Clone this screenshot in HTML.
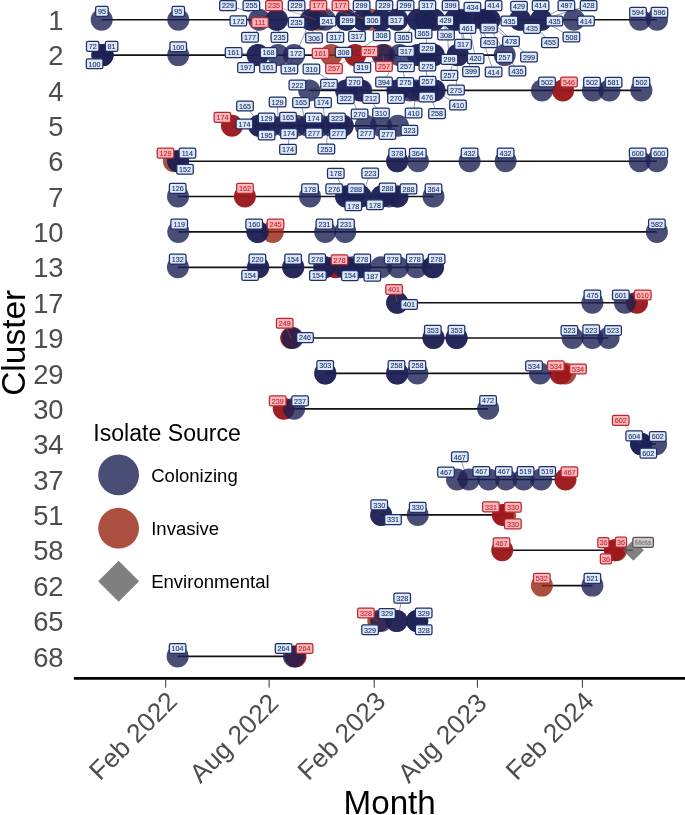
<!DOCTYPE html>
<html lang="en"><head><meta charset="utf-8"><title>Cluster timeline</title>
<style>html,body{margin:0;padding:0;background:#fff}svg{display:block}</style></head>
<body>
<svg width="685" height="815" viewBox="0 0 685 815">
<rect width="685" height="815" fill="#fff"/>
<g stroke="#111" stroke-width="1.65" stroke-linecap="butt">
<line x1="101.7" y1="19.7" x2="657" y2="19.7"/>
<line x1="102.5" y1="55.1" x2="505" y2="55.1"/>
<line x1="309.2" y1="90.4" x2="641.4" y2="90.4"/>
<line x1="232" y1="125.8" x2="397.9" y2="125.8"/>
<line x1="178" y1="161.2" x2="656.9" y2="161.2"/>
<line x1="177.7" y1="196.5" x2="433.5" y2="196.5"/>
<line x1="178.3" y1="231.9" x2="656.9" y2="231.9"/>
<line x1="177.7" y1="267.3" x2="433" y2="267.3"/>
<line x1="397.1" y1="302.7" x2="637" y2="302.7"/>
<line x1="291.5" y1="338.0" x2="608.4" y2="338.0"/>
<line x1="325.2" y1="373.4" x2="562" y2="373.4"/>
<line x1="283.1" y1="408.8" x2="488.1" y2="408.8"/>
<line x1="641" y1="444.1" x2="656" y2="444.1"/>
<line x1="457" y1="479.5" x2="565.5" y2="479.5"/>
<line x1="381.1" y1="514.9" x2="505" y2="514.9"/>
<line x1="502.2" y1="550.2" x2="633" y2="550.2"/>
<line x1="541.9" y1="585.6" x2="592.4" y2="585.6"/>
<line x1="177.6" y1="656.4" x2="294.5" y2="656.4"/>
</g>
<circle cx="318" cy="19.7" r="11.0" fill="#962410" fill-opacity="0.8"/>
<circle cx="371" cy="19.7" r="11.0" fill="#962410" fill-opacity="0.8"/>
<circle cx="331.2" cy="55.1" r="11.0" fill="#962410" fill-opacity="0.8"/>
<circle cx="384.5" cy="55.1" r="11.0" fill="#962410" fill-opacity="0.8"/>
<circle cx="355.2" cy="55.1" r="11.0" fill="#9b191b" fill-opacity="0.97"/>
<circle cx="563" cy="90.4" r="11.0" fill="#9b191b" fill-opacity="0.97"/>
<circle cx="232" cy="125.8" r="11.0" fill="#9b191b" fill-opacity="0.97"/>
<circle cx="173.9" cy="161.2" r="11.0" fill="#962410" fill-opacity="0.8"/>
<circle cx="244.9" cy="196.5" r="11.0" fill="#9b191b" fill-opacity="0.97"/>
<circle cx="272.8" cy="231.9" r="11.0" fill="#962410" fill-opacity="0.8"/>
<circle cx="335.5" cy="267.3" r="11.0" fill="#9b191b" fill-opacity="0.97"/>
<circle cx="637" cy="302.7" r="11.0" fill="#9b191b" fill-opacity="0.97"/>
<circle cx="291.2" cy="338.0" r="11.0" fill="#9b191b" fill-opacity="0.97"/>
<circle cx="565.2" cy="373.4" r="11.0" fill="#962410" fill-opacity="0.8"/>
<circle cx="560.5" cy="373.4" r="11.0" fill="#9b191b" fill-opacity="0.97"/>
<circle cx="283.8" cy="408.8" r="11.0" fill="#9b191b" fill-opacity="0.97"/>
<circle cx="565.5" cy="479.5" r="11.0" fill="#9b191b" fill-opacity="0.97"/>
<circle cx="505.2" cy="514.9" r="11.0" fill="#962410" fill-opacity="0.8"/>
<circle cx="502.8" cy="514.9" r="11.0" fill="#9b191b" fill-opacity="0.97"/>
<circle cx="616.2" cy="550.2" r="11.0" fill="#962410" fill-opacity="0.8"/>
<circle cx="502.2" cy="550.2" r="11.0" fill="#9b191b" fill-opacity="0.97"/>
<circle cx="614.8" cy="550.2" r="11.0" fill="#9b191b" fill-opacity="0.97"/>
<circle cx="541.9" cy="585.6" r="11.0" fill="#962410" fill-opacity="0.8"/>
<circle cx="378.3" cy="621.0" r="11.0" fill="#962410" fill-opacity="0.8"/>
<circle cx="295.5" cy="656.4" r="11.0" fill="#9b191b" fill-opacity="0.97"/>
<circle cx="101.7" cy="19.7" r="11.0" fill="#1d2053" fill-opacity="0.8"/>
<circle cx="178.3" cy="19.7" r="11.0" fill="#1d2053" fill-opacity="0.8"/>
<circle cx="259.2" cy="19.7" r="11.0" fill="#1d2053" fill-opacity="0.8"/>
<circle cx="276.5" cy="19.7" r="11.0" fill="#1d2053" fill-opacity="0.8"/>
<circle cx="277.1" cy="19.7" r="11.0" fill="#1d2053" fill-opacity="0.8"/>
<circle cx="310.7" cy="19.7" r="11.0" fill="#1d2053" fill-opacity="0.8"/>
<circle cx="311.5" cy="19.7" r="11.0" fill="#1d2053" fill-opacity="0.8"/>
<circle cx="325" cy="19.7" r="11.0" fill="#1d2053" fill-opacity="0.8"/>
<circle cx="346" cy="19.7" r="11.0" fill="#1d2053" fill-opacity="0.8"/>
<circle cx="346.3" cy="19.7" r="11.0" fill="#1d2053" fill-opacity="0.8"/>
<circle cx="363" cy="19.7" r="11.0" fill="#1d2053" fill-opacity="0.8"/>
<circle cx="363.3" cy="19.7" r="11.0" fill="#1d2053" fill-opacity="0.8"/>
<circle cx="381" cy="19.7" r="11.0" fill="#1d2053" fill-opacity="0.8"/>
<circle cx="381.3" cy="19.7" r="11.0" fill="#1d2053" fill-opacity="0.8"/>
<circle cx="397" cy="19.7" r="11.0" fill="#1d2053" fill-opacity="0.8"/>
<circle cx="397.3" cy="19.7" r="11.0" fill="#1d2053" fill-opacity="0.8"/>
<circle cx="418" cy="19.7" r="11.0" fill="#1d2053" fill-opacity="0.8"/>
<circle cx="418.3" cy="19.7" r="11.0" fill="#1d2053" fill-opacity="0.8"/>
<circle cx="426" cy="19.7" r="11.0" fill="#1d2053" fill-opacity="0.8"/>
<circle cx="434" cy="19.7" r="11.0" fill="#1d2053" fill-opacity="0.8"/>
<circle cx="434.3" cy="19.7" r="11.0" fill="#1d2053" fill-opacity="0.8"/>
<circle cx="455" cy="19.7" r="11.0" fill="#1d2053" fill-opacity="0.8"/>
<circle cx="455.3" cy="19.7" r="11.0" fill="#1d2053" fill-opacity="0.8"/>
<circle cx="461" cy="19.7" r="11.0" fill="#1d2053" fill-opacity="0.8"/>
<circle cx="467" cy="19.7" r="11.0" fill="#1d2053" fill-opacity="0.8"/>
<circle cx="471" cy="19.7" r="11.0" fill="#1d2053" fill-opacity="0.8"/>
<circle cx="485" cy="19.7" r="11.0" fill="#1d2053" fill-opacity="0.8"/>
<circle cx="485.3" cy="19.7" r="11.0" fill="#1d2053" fill-opacity="0.8"/>
<circle cx="489.4" cy="19.7" r="11.0" fill="#1d2053" fill-opacity="0.8"/>
<circle cx="489.6" cy="19.7" r="11.0" fill="#1d2053" fill-opacity="0.8"/>
<circle cx="520" cy="19.7" r="11.0" fill="#1d2053" fill-opacity="0.8"/>
<circle cx="520.3" cy="19.7" r="11.0" fill="#1d2053" fill-opacity="0.8"/>
<circle cx="541" cy="19.7" r="11.0" fill="#1d2053" fill-opacity="0.8"/>
<circle cx="541.3" cy="19.7" r="11.0" fill="#1d2053" fill-opacity="0.8"/>
<circle cx="574" cy="19.7" r="11.0" fill="#1d2053" fill-opacity="0.8"/>
<circle cx="640" cy="19.7" r="11.0" fill="#1d2053" fill-opacity="0.8"/>
<circle cx="657" cy="19.7" r="11.0" fill="#1d2053" fill-opacity="0.8"/>
<circle cx="102.5" cy="55.1" r="11.0" fill="#1d2053" fill-opacity="0.8"/>
<circle cx="102.5" cy="55.1" r="11.0" fill="#1d2053" fill-opacity="0.8"/>
<circle cx="102.5" cy="55.1" r="11.0" fill="#1d2053" fill-opacity="0.8"/>
<circle cx="178.2" cy="55.1" r="11.0" fill="#1d2053" fill-opacity="0.8"/>
<circle cx="257.5" cy="55.1" r="11.0" fill="#1d2053" fill-opacity="0.8"/>
<circle cx="258" cy="55.1" r="11.0" fill="#1d2053" fill-opacity="0.8"/>
<circle cx="278" cy="55.1" r="11.0" fill="#1d2053" fill-opacity="0.8"/>
<circle cx="294" cy="55.1" r="11.0" fill="#1d2053" fill-opacity="0.8"/>
<circle cx="382.6" cy="55.1" r="11.0" fill="#1d2053" fill-opacity="0.8"/>
<circle cx="399.6" cy="55.1" r="11.0" fill="#1d2053" fill-opacity="0.8"/>
<circle cx="418" cy="55.1" r="11.0" fill="#1d2053" fill-opacity="0.8"/>
<circle cx="418.3" cy="55.1" r="11.0" fill="#1d2053" fill-opacity="0.8"/>
<circle cx="426" cy="55.1" r="11.0" fill="#1d2053" fill-opacity="0.8"/>
<circle cx="433.5" cy="55.1" r="11.0" fill="#1d2053" fill-opacity="0.8"/>
<circle cx="433.8" cy="55.1" r="11.0" fill="#1d2053" fill-opacity="0.8"/>
<circle cx="457.6" cy="55.1" r="11.0" fill="#1d2053" fill-opacity="0.8"/>
<circle cx="458" cy="55.1" r="11.0" fill="#1d2053" fill-opacity="0.8"/>
<circle cx="504.7" cy="55.1" r="11.0" fill="#1d2053" fill-opacity="0.8"/>
<circle cx="309.2" cy="90.4" r="11.0" fill="#1d2053" fill-opacity="0.8"/>
<circle cx="346" cy="90.4" r="11.0" fill="#1d2053" fill-opacity="0.8"/>
<circle cx="347" cy="90.4" r="11.0" fill="#1d2053" fill-opacity="0.8"/>
<circle cx="361.3" cy="90.4" r="11.0" fill="#1d2053" fill-opacity="0.8"/>
<circle cx="360" cy="90.4" r="11.0" fill="#1d2053" fill-opacity="0.8"/>
<circle cx="397.4" cy="90.4" r="11.0" fill="#1d2053" fill-opacity="0.8"/>
<circle cx="398" cy="90.4" r="11.0" fill="#1d2053" fill-opacity="0.8"/>
<circle cx="409.5" cy="90.4" r="11.0" fill="#1d2053" fill-opacity="0.8"/>
<circle cx="416" cy="90.4" r="11.0" fill="#1d2053" fill-opacity="0.8"/>
<circle cx="422.6" cy="90.4" r="11.0" fill="#1d2053" fill-opacity="0.8"/>
<circle cx="428" cy="90.4" r="11.0" fill="#1d2053" fill-opacity="0.8"/>
<circle cx="434.7" cy="90.4" r="11.0" fill="#1d2053" fill-opacity="0.8"/>
<circle cx="434" cy="90.4" r="11.0" fill="#1d2053" fill-opacity="0.8"/>
<circle cx="542" cy="90.4" r="11.0" fill="#1d2053" fill-opacity="0.8"/>
<circle cx="593" cy="90.4" r="11.0" fill="#1d2053" fill-opacity="0.8"/>
<circle cx="609.4" cy="90.4" r="11.0" fill="#1d2053" fill-opacity="0.8"/>
<circle cx="641.4" cy="90.4" r="11.0" fill="#1d2053" fill-opacity="0.8"/>
<circle cx="259" cy="125.8" r="11.0" fill="#1d2053" fill-opacity="0.8"/>
<circle cx="259.3" cy="125.8" r="11.0" fill="#1d2053" fill-opacity="0.8"/>
<circle cx="265" cy="125.8" r="11.0" fill="#1d2053" fill-opacity="0.8"/>
<circle cx="271" cy="125.8" r="11.0" fill="#1d2053" fill-opacity="0.8"/>
<circle cx="284" cy="125.8" r="11.0" fill="#1d2053" fill-opacity="0.8"/>
<circle cx="290" cy="125.8" r="11.0" fill="#1d2053" fill-opacity="0.8"/>
<circle cx="296" cy="125.8" r="11.0" fill="#1d2053" fill-opacity="0.8"/>
<circle cx="308" cy="125.8" r="11.0" fill="#1d2053" fill-opacity="0.8"/>
<circle cx="314" cy="125.8" r="11.0" fill="#1d2053" fill-opacity="0.8"/>
<circle cx="320" cy="125.8" r="11.0" fill="#1d2053" fill-opacity="0.8"/>
<circle cx="331.5" cy="125.8" r="11.0" fill="#1d2053" fill-opacity="0.8"/>
<circle cx="337" cy="125.8" r="11.0" fill="#1d2053" fill-opacity="0.8"/>
<circle cx="342.5" cy="125.8" r="11.0" fill="#1d2053" fill-opacity="0.8"/>
<circle cx="342.8" cy="125.8" r="11.0" fill="#1d2053" fill-opacity="0.8"/>
<circle cx="365.7" cy="125.8" r="11.0" fill="#1d2053" fill-opacity="0.8"/>
<circle cx="381" cy="125.8" r="11.0" fill="#1d2053" fill-opacity="0.8"/>
<circle cx="397.9" cy="125.8" r="11.0" fill="#1d2053" fill-opacity="0.8"/>
<circle cx="178.1" cy="161.2" r="11.0" fill="#1d2053" fill-opacity="0.8"/>
<circle cx="178.2" cy="161.2" r="11.0" fill="#1d2053" fill-opacity="0.8"/>
<circle cx="397" cy="161.2" r="11.0" fill="#1d2053" fill-opacity="0.8"/>
<circle cx="397.3" cy="161.2" r="11.0" fill="#1d2053" fill-opacity="0.8"/>
<circle cx="418" cy="161.2" r="11.0" fill="#1d2053" fill-opacity="0.8"/>
<circle cx="469.6" cy="161.2" r="11.0" fill="#1d2053" fill-opacity="0.8"/>
<circle cx="505.6" cy="161.2" r="11.0" fill="#1d2053" fill-opacity="0.8"/>
<circle cx="639.7" cy="161.2" r="11.0" fill="#1d2053" fill-opacity="0.8"/>
<circle cx="656.9" cy="161.2" r="11.0" fill="#1d2053" fill-opacity="0.8"/>
<circle cx="178" cy="196.5" r="11.0" fill="#1d2053" fill-opacity="0.8"/>
<circle cx="310" cy="196.5" r="11.0" fill="#1d2053" fill-opacity="0.8"/>
<circle cx="346" cy="196.5" r="11.0" fill="#1d2053" fill-opacity="0.8"/>
<circle cx="346.3" cy="196.5" r="11.0" fill="#1d2053" fill-opacity="0.8"/>
<circle cx="353" cy="196.5" r="11.0" fill="#1d2053" fill-opacity="0.8"/>
<circle cx="360.5" cy="196.5" r="11.0" fill="#1d2053" fill-opacity="0.8"/>
<circle cx="360.8" cy="196.5" r="11.0" fill="#1d2053" fill-opacity="0.8"/>
<circle cx="381.5" cy="196.5" r="11.0" fill="#1d2053" fill-opacity="0.8"/>
<circle cx="381.8" cy="196.5" r="11.0" fill="#1d2053" fill-opacity="0.8"/>
<circle cx="389" cy="196.5" r="11.0" fill="#1d2053" fill-opacity="0.8"/>
<circle cx="397.2" cy="196.5" r="11.0" fill="#1d2053" fill-opacity="0.8"/>
<circle cx="397.5" cy="196.5" r="11.0" fill="#1d2053" fill-opacity="0.8"/>
<circle cx="433.5" cy="196.5" r="11.0" fill="#1d2053" fill-opacity="0.8"/>
<circle cx="178.3" cy="231.9" r="11.0" fill="#1d2053" fill-opacity="0.8"/>
<circle cx="257.4" cy="231.9" r="11.0" fill="#1d2053" fill-opacity="0.8"/>
<circle cx="257.6" cy="231.9" r="11.0" fill="#1d2053" fill-opacity="0.8"/>
<circle cx="325.2" cy="231.9" r="11.0" fill="#1d2053" fill-opacity="0.8"/>
<circle cx="345.2" cy="231.9" r="11.0" fill="#1d2053" fill-opacity="0.8"/>
<circle cx="656.9" cy="231.9" r="11.0" fill="#1d2053" fill-opacity="0.8"/>
<circle cx="177.9" cy="267.3" r="11.0" fill="#1d2053" fill-opacity="0.8"/>
<circle cx="258" cy="267.3" r="11.0" fill="#1d2053" fill-opacity="0.8"/>
<circle cx="258.3" cy="267.3" r="11.0" fill="#1d2053" fill-opacity="0.8"/>
<circle cx="293.1" cy="267.3" r="11.0" fill="#1d2053" fill-opacity="0.8"/>
<circle cx="293.3" cy="267.3" r="11.0" fill="#1d2053" fill-opacity="0.8"/>
<circle cx="324" cy="267.3" r="11.0" fill="#1d2053" fill-opacity="0.8"/>
<circle cx="325" cy="267.3" r="11.0" fill="#1d2053" fill-opacity="0.8"/>
<circle cx="344" cy="267.3" r="11.0" fill="#1d2053" fill-opacity="0.8"/>
<circle cx="346" cy="267.3" r="11.0" fill="#1d2053" fill-opacity="0.8"/>
<circle cx="353" cy="267.3" r="11.0" fill="#1d2053" fill-opacity="0.8"/>
<circle cx="360" cy="267.3" r="11.0" fill="#1d2053" fill-opacity="0.8"/>
<circle cx="360.3" cy="267.3" r="11.0" fill="#1d2053" fill-opacity="0.8"/>
<circle cx="381" cy="267.3" r="11.0" fill="#1d2053" fill-opacity="0.8"/>
<circle cx="398.1" cy="267.3" r="11.0" fill="#1d2053" fill-opacity="0.8"/>
<circle cx="416.5" cy="267.3" r="11.0" fill="#1d2053" fill-opacity="0.8"/>
<circle cx="432.9" cy="267.3" r="11.0" fill="#1d2053" fill-opacity="0.8"/>
<circle cx="433.1" cy="267.3" r="11.0" fill="#1d2053" fill-opacity="0.8"/>
<circle cx="397.1" cy="302.7" r="11.0" fill="#1d2053" fill-opacity="0.8"/>
<circle cx="397.3" cy="302.7" r="11.0" fill="#1d2053" fill-opacity="0.8"/>
<circle cx="592.4" cy="302.7" r="11.0" fill="#1d2053" fill-opacity="0.8"/>
<circle cx="625" cy="302.7" r="11.0" fill="#1d2053" fill-opacity="0.8"/>
<circle cx="292.6" cy="338.0" r="11.0" fill="#1d2053" fill-opacity="0.8"/>
<circle cx="433.4" cy="338.0" r="11.0" fill="#1d2053" fill-opacity="0.8"/>
<circle cx="433.6" cy="338.0" r="11.0" fill="#1d2053" fill-opacity="0.8"/>
<circle cx="456.5" cy="338.0" r="11.0" fill="#1d2053" fill-opacity="0.8"/>
<circle cx="456.6" cy="338.0" r="11.0" fill="#1d2053" fill-opacity="0.8"/>
<circle cx="572.6" cy="338.0" r="11.0" fill="#1d2053" fill-opacity="0.8"/>
<circle cx="592.3" cy="338.0" r="11.0" fill="#1d2053" fill-opacity="0.8"/>
<circle cx="608.6" cy="338.0" r="11.0" fill="#1d2053" fill-opacity="0.8"/>
<circle cx="325.2" cy="373.4" r="11.0" fill="#1d2053" fill-opacity="0.8"/>
<circle cx="325.4" cy="373.4" r="11.0" fill="#1d2053" fill-opacity="0.8"/>
<circle cx="397.1" cy="373.4" r="11.0" fill="#1d2053" fill-opacity="0.8"/>
<circle cx="397.3" cy="373.4" r="11.0" fill="#1d2053" fill-opacity="0.8"/>
<circle cx="417.4" cy="373.4" r="11.0" fill="#1d2053" fill-opacity="0.8"/>
<circle cx="540" cy="373.4" r="11.0" fill="#1d2053" fill-opacity="0.8"/>
<circle cx="294.1" cy="408.8" r="11.0" fill="#1d2053" fill-opacity="0.8"/>
<circle cx="488.1" cy="408.8" r="11.0" fill="#1d2053" fill-opacity="0.8"/>
<circle cx="641.1" cy="444.1" r="11.0" fill="#1d2053" fill-opacity="0.8"/>
<circle cx="641.2" cy="444.1" r="11.0" fill="#1d2053" fill-opacity="0.8"/>
<circle cx="641.3" cy="444.1" r="11.0" fill="#1d2053" fill-opacity="0.8"/>
<circle cx="656.1" cy="444.1" r="11.0" fill="#1d2053" fill-opacity="0.8"/>
<circle cx="457" cy="479.5" r="11.0" fill="#1d2053" fill-opacity="0.8"/>
<circle cx="468.9" cy="479.5" r="11.0" fill="#1d2053" fill-opacity="0.8"/>
<circle cx="488.6" cy="479.5" r="11.0" fill="#1d2053" fill-opacity="0.8"/>
<circle cx="506" cy="479.5" r="11.0" fill="#1d2053" fill-opacity="0.8"/>
<circle cx="523.6" cy="479.5" r="11.0" fill="#1d2053" fill-opacity="0.8"/>
<circle cx="541.2" cy="479.5" r="11.0" fill="#1d2053" fill-opacity="0.8"/>
<circle cx="381.1" cy="514.9" r="11.0" fill="#1d2053" fill-opacity="0.8"/>
<circle cx="381.3" cy="514.9" r="11.0" fill="#1d2053" fill-opacity="0.8"/>
<circle cx="417.7" cy="514.9" r="11.0" fill="#1d2053" fill-opacity="0.8"/>
<circle cx="592.4" cy="585.6" r="11.0" fill="#1d2053" fill-opacity="0.8"/>
<circle cx="381.2" cy="621.0" r="11.0" fill="#1d2053" fill-opacity="0.8"/>
<circle cx="396.6" cy="621.0" r="11.0" fill="#1d2053" fill-opacity="0.8"/>
<circle cx="396.8" cy="621.0" r="11.0" fill="#1d2053" fill-opacity="0.8"/>
<circle cx="417.1" cy="621.0" r="11.0" fill="#1d2053" fill-opacity="0.8"/>
<circle cx="417.3" cy="621.0" r="11.0" fill="#1d2053" fill-opacity="0.8"/>
<circle cx="417.2" cy="621.0" r="11.0" fill="#1d2053" fill-opacity="0.8"/>
<circle cx="177.6" cy="656.4" r="11.0" fill="#1d2053" fill-opacity="0.8"/>
<circle cx="294" cy="656.4" r="11.0" fill="#1d2053" fill-opacity="0.8"/>
<path d="M622.9 550.2L633.4 539.8L643.9 550.2L633.4 560.8Z" fill="#606060" fill-opacity=".8"/>
<g stroke-width=".6" fill="none" stroke-opacity=".8">
<line x1="228.0" y1="5.6" x2="277.0" y2="19.7" stroke="#1f2d68"/>
<line x1="251.4" y1="5.6" x2="277.0" y2="19.7" stroke="#1f2d68"/>
<line x1="274.0" y1="5.6" x2="316.0" y2="19.7" stroke="#c4563c"/>
<line x1="296.6" y1="5.6" x2="310.7" y2="19.7" stroke="#1f2d68"/>
<line x1="318.4" y1="5.6" x2="366.0" y2="19.7" stroke="#c4563c"/>
<line x1="340.4" y1="5.6" x2="366.0" y2="19.7" stroke="#c4563c"/>
<line x1="361.6" y1="5.6" x2="359" y2="19.7" stroke="#1f2d68"/>
<line x1="384.4" y1="5.6" x2="385" y2="19.7" stroke="#1f2d68"/>
<line x1="405.6" y1="5.6" x2="404" y2="19.7" stroke="#1f2d68"/>
<line x1="427.4" y1="5.6" x2="428" y2="19.7" stroke="#1f2d68"/>
<line x1="450.6" y1="5.6" x2="452" y2="19.7" stroke="#1f2d68"/>
<line x1="472.4" y1="7.4" x2="470" y2="19.7" stroke="#1f2d68"/>
<line x1="493.6" y1="5.6" x2="490" y2="19.7" stroke="#1f2d68"/>
<line x1="519.0" y1="6.4" x2="520" y2="19.7" stroke="#1f2d68"/>
<line x1="540.6" y1="5.6" x2="541" y2="19.7" stroke="#1f2d68"/>
<line x1="566.4" y1="5.6" x2="541.0" y2="19.7" stroke="#1f2d68"/>
<line x1="588.6" y1="5.6" x2="541.0" y2="19.7" stroke="#1f2d68"/>
<line x1="296.6" y1="22.4" x2="278.0" y2="19.7" stroke="#1f2d68"/>
<line x1="509.4" y1="21.0" x2="520.0" y2="19.7" stroke="#1f2d68"/>
<line x1="467.4" y1="28.4" x2="462" y2="19.7" stroke="#1f2d68"/>
<line x1="489.0" y1="28.0" x2="484" y2="19.7" stroke="#1f2d68"/>
<line x1="532.0" y1="28.4" x2="530" y2="19.7" stroke="#1f2d68"/>
<line x1="250.0" y1="37.2" x2="269.0" y2="21.0" stroke="#1f2d68"/>
<line x1="279.4" y1="37.4" x2="277.0" y2="19.7" stroke="#1f2d68"/>
<line x1="314.0" y1="37.8" x2="311.0" y2="19.7" stroke="#1f2d68"/>
<line x1="335.4" y1="37.4" x2="346.0" y2="19.7" stroke="#1f2d68"/>
<line x1="357.0" y1="36.4" x2="372.0" y2="19.7" stroke="#1f2d68"/>
<line x1="381.6" y1="35.6" x2="350.0" y2="55.0" stroke="#1f2d68"/>
<line x1="403.4" y1="37.4" x2="418.0" y2="19.7" stroke="#1f2d68"/>
<line x1="423.6" y1="33.4" x2="420" y2="19.7" stroke="#1f2d68"/>
<line x1="446.0" y1="34.8" x2="444" y2="19.7" stroke="#1f2d68"/>
<line x1="571.4" y1="37.0" x2="541.0" y2="19.7" stroke="#1f2d68"/>
<line x1="463.0" y1="44.4" x2="460" y2="19.7" stroke="#1f2d68"/>
<line x1="489.0" y1="42.6" x2="476.0" y2="19.7" stroke="#1f2d68"/>
<line x1="511.0" y1="41.4" x2="484.0" y2="19.7" stroke="#1f2d68"/>
<line x1="550.0" y1="42.6" x2="530.0" y2="19.7" stroke="#1f2d68"/>
<line x1="233.6" y1="52.6" x2="258.0" y2="55.0" stroke="#1f2d68"/>
<line x1="296.0" y1="53.4" x2="310.7" y2="19.7" stroke="#1f2d68"/>
<line x1="406.0" y1="51.4" x2="400" y2="55.1" stroke="#1f2d68"/>
<line x1="427.4" y1="48.4" x2="424" y2="19.7" stroke="#1f2d68"/>
<line x1="449.4" y1="59.4" x2="446.0" y2="19.7" stroke="#1f2d68"/>
<line x1="475.6" y1="58.6" x2="468.0" y2="19.7" stroke="#1f2d68"/>
<line x1="529.0" y1="57.0" x2="490.0" y2="19.7" stroke="#1f2d68"/>
<line x1="246.0" y1="67.6" x2="258.0" y2="55.0" stroke="#1f2d68"/>
<line x1="268.0" y1="67.6" x2="258.0" y2="55.0" stroke="#1f2d68"/>
<line x1="289.4" y1="69.0" x2="294.0" y2="55.0" stroke="#1f2d68"/>
<line x1="311.4" y1="69.0" x2="346.0" y2="90.0" stroke="#1f2d68"/>
<line x1="334.0" y1="68.6" x2="355.0" y2="55.0" stroke="#c4563c"/>
<line x1="362.4" y1="67.6" x2="383" y2="55.1" stroke="#1f2d68"/>
<line x1="384.0" y1="66.4" x2="383.0" y2="55.0" stroke="#c4563c"/>
<line x1="406.0" y1="66.6" x2="413.0" y2="55.0" stroke="#1f2d68"/>
<line x1="427.4" y1="66.0" x2="426" y2="55.1" stroke="#1f2d68"/>
<line x1="449.4" y1="75.4" x2="455" y2="55.1" stroke="#1f2d68"/>
<line x1="471.0" y1="71.6" x2="460.0" y2="19.7" stroke="#1f2d68"/>
<line x1="493.6" y1="72.0" x2="476.0" y2="19.7" stroke="#1f2d68"/>
<line x1="517.4" y1="71.0" x2="484.0" y2="19.7" stroke="#1f2d68"/>
<line x1="297.4" y1="85.0" x2="309.2" y2="90.4" stroke="#1f2d68"/>
<line x1="329.0" y1="84.4" x2="309.0" y2="90.0" stroke="#1f2d68"/>
<line x1="354.4" y1="82.0" x2="347" y2="90.4" stroke="#1f2d68"/>
<line x1="384.0" y1="82.0" x2="398.0" y2="55.0" stroke="#1f2d68"/>
<line x1="405.4" y1="82.6" x2="400" y2="55.1" stroke="#1f2d68"/>
<line x1="427.6" y1="81.4" x2="424" y2="55.1" stroke="#1f2d68"/>
<line x1="456.0" y1="90.0" x2="458" y2="55.1" stroke="#1f2d68"/>
<line x1="345.8" y1="98.6" x2="346" y2="90.4" stroke="#1f2d68"/>
<line x1="371.0" y1="98.4" x2="361" y2="90.4" stroke="#1f2d68"/>
<line x1="396.0" y1="98.4" x2="398" y2="90.4" stroke="#1f2d68"/>
<line x1="427.2" y1="97.0" x2="428" y2="90.4" stroke="#1f2d68"/>
<line x1="458.0" y1="105.0" x2="434.0" y2="90.0" stroke="#1f2d68"/>
<line x1="359.6" y1="114.0" x2="346.0" y2="90.0" stroke="#1f2d68"/>
<line x1="381.0" y1="113.0" x2="361.0" y2="90.0" stroke="#1f2d68"/>
<line x1="413.6" y1="113.0" x2="416.0" y2="90.0" stroke="#1f2d68"/>
<line x1="437.0" y1="113.6" x2="428.0" y2="90.0" stroke="#1f2d68"/>
<line x1="245.0" y1="106.0" x2="262.0" y2="125.0" stroke="#1f2d68"/>
<line x1="277.6" y1="102.0" x2="278.0" y2="125.0" stroke="#1f2d68"/>
<line x1="301.0" y1="102.6" x2="306.0" y2="125.0" stroke="#1f2d68"/>
<line x1="323.0" y1="102.6" x2="325.0" y2="125.0" stroke="#1f2d68"/>
<line x1="409.4" y1="130.4" x2="397.9" y2="125.8" stroke="#1f2d68"/>
<line x1="288.0" y1="149.4" x2="290.0" y2="125.0" stroke="#1f2d68"/>
<line x1="326.4" y1="149.0" x2="328.0" y2="125.0" stroke="#1f2d68"/>
<line x1="335.8" y1="173.3" x2="346.0" y2="196.5" stroke="#1f2d68"/>
<line x1="370.2" y1="173.1" x2="362.0" y2="196.5" stroke="#1f2d68"/>
<line x1="394.1" y1="289.5" x2="397.0" y2="302.0" stroke="#c4563c"/>
<line x1="409.1" y1="304.5" x2="397.1" y2="302.7" stroke="#1f2d68"/>
<line x1="284.7" y1="323.2" x2="291.0" y2="338.0" stroke="#c4563c"/>
<line x1="305.0" y1="337.6" x2="292.6" y2="338" stroke="#1f2d68"/>
<line x1="620.7" y1="420.4" x2="641.0" y2="444.0" stroke="#c4563c"/>
<line x1="634.2" y1="435.8" x2="641" y2="444" stroke="#1f2d68"/>
<line x1="648.3" y1="453.1" x2="641" y2="444" stroke="#1f2d68"/>
<line x1="459.8" y1="456.7" x2="468.0" y2="480.0" stroke="#1f2d68"/>
<line x1="379.2" y1="504.9" x2="381.1" y2="514.9" stroke="#1f2d68"/>
<line x1="393.0" y1="519.6" x2="381.1" y2="514.9" stroke="#1f2d68"/>
<line x1="402.2" y1="598.1" x2="397.0" y2="621.0" stroke="#1f2d68"/>
<line x1="365.9" y1="613.0" x2="378.3" y2="621.4" stroke="#c4563c"/>
<line x1="370.1" y1="629.7" x2="381" y2="621.4" stroke="#1f2d68"/>
</g>
<g font-family="'Liberation Sans',Arial,sans-serif" font-size="7.2" text-anchor="middle">
<rect x="95.65" y="6.45" width="12.50" height="9.9" rx="1.6" fill="#dbe9f8" stroke="#1f2d68" stroke-width="1.25"/>
<text x="101.90" y="14.20" fill="#1f2d68" stroke="#1f2d68" stroke-width=".1">95</text>
<rect x="172.05" y="6.45" width="12.50" height="9.9" rx="1.6" fill="#dbe9f8" stroke="#1f2d68" stroke-width="1.25"/>
<text x="178.30" y="14.20" fill="#1f2d68" stroke="#1f2d68" stroke-width=".1">95</text>
<rect x="86.45" y="41.35" width="12.50" height="9.9" rx="1.6" fill="#dbe9f8" stroke="#1f2d68" stroke-width="1.25"/>
<text x="92.70" y="49.10" fill="#1f2d68" stroke="#1f2d68" stroke-width=".1">72</text>
<rect x="105.35" y="41.35" width="12.50" height="9.9" rx="1.6" fill="#dbe9f8" stroke="#1f2d68" stroke-width="1.25"/>
<text x="111.60" y="49.10" fill="#1f2d68" stroke="#1f2d68" stroke-width=".1">81</text>
<rect x="86.30" y="58.75" width="16.60" height="9.9" rx="1.6" fill="#dbe9f8" stroke="#1f2d68" stroke-width="1.25"/>
<text x="94.60" y="66.50" fill="#1f2d68" stroke="#1f2d68" stroke-width=".1">100</text>
<rect x="169.90" y="41.75" width="16.60" height="9.9" rx="1.6" fill="#dbe9f8" stroke="#1f2d68" stroke-width="1.25"/>
<text x="178.20" y="49.50" fill="#1f2d68" stroke="#1f2d68" stroke-width=".1">100</text>
<rect x="219.70" y="0.65" width="16.60" height="9.9" rx="1.6" fill="#dbe9f8" stroke="#1f2d68" stroke-width="1.25"/>
<text x="228.00" y="8.40" fill="#1f2d68" stroke="#1f2d68" stroke-width=".1">229</text>
<rect x="243.10" y="0.65" width="16.60" height="9.9" rx="1.6" fill="#dbe9f8" stroke="#1f2d68" stroke-width="1.25"/>
<text x="251.40" y="8.40" fill="#1f2d68" stroke="#1f2d68" stroke-width=".1">255</text>
<rect x="265.70" y="0.65" width="16.60" height="9.9" rx="1.6" fill="#fbb8bb" stroke="#b92732" stroke-width="1.25"/>
<text x="274.00" y="8.40" fill="#b8242f" stroke="#b8242f" stroke-width=".1">235</text>
<rect x="288.30" y="0.65" width="16.60" height="9.9" rx="1.6" fill="#dbe9f8" stroke="#1f2d68" stroke-width="1.25"/>
<text x="296.60" y="8.40" fill="#1f2d68" stroke="#1f2d68" stroke-width=".1">229</text>
<rect x="310.10" y="0.65" width="16.60" height="9.9" rx="1.6" fill="#fbb8bb" stroke="#b92732" stroke-width="1.25"/>
<text x="318.40" y="8.40" fill="#b8242f" stroke="#b8242f" stroke-width=".1">177</text>
<rect x="332.10" y="0.65" width="16.60" height="9.9" rx="1.6" fill="#fbb8bb" stroke="#b92732" stroke-width="1.25"/>
<text x="340.40" y="8.40" fill="#b8242f" stroke="#b8242f" stroke-width=".1">177</text>
<rect x="353.30" y="0.65" width="16.60" height="9.9" rx="1.6" fill="#dbe9f8" stroke="#1f2d68" stroke-width="1.25"/>
<text x="361.60" y="8.40" fill="#1f2d68" stroke="#1f2d68" stroke-width=".1">299</text>
<rect x="376.10" y="0.65" width="16.60" height="9.9" rx="1.6" fill="#dbe9f8" stroke="#1f2d68" stroke-width="1.25"/>
<text x="384.40" y="8.40" fill="#1f2d68" stroke="#1f2d68" stroke-width=".1">229</text>
<rect x="397.30" y="0.65" width="16.60" height="9.9" rx="1.6" fill="#dbe9f8" stroke="#1f2d68" stroke-width="1.25"/>
<text x="405.60" y="8.40" fill="#1f2d68" stroke="#1f2d68" stroke-width=".1">299</text>
<rect x="419.10" y="0.65" width="16.60" height="9.9" rx="1.6" fill="#dbe9f8" stroke="#1f2d68" stroke-width="1.25"/>
<text x="427.40" y="8.40" fill="#1f2d68" stroke="#1f2d68" stroke-width=".1">317</text>
<rect x="442.30" y="0.65" width="16.60" height="9.9" rx="1.6" fill="#dbe9f8" stroke="#1f2d68" stroke-width="1.25"/>
<text x="450.60" y="8.40" fill="#1f2d68" stroke="#1f2d68" stroke-width=".1">399</text>
<rect x="464.10" y="2.45" width="16.60" height="9.9" rx="1.6" fill="#dbe9f8" stroke="#1f2d68" stroke-width="1.25"/>
<text x="472.40" y="10.20" fill="#1f2d68" stroke="#1f2d68" stroke-width=".1">434</text>
<rect x="485.30" y="0.65" width="16.60" height="9.9" rx="1.6" fill="#dbe9f8" stroke="#1f2d68" stroke-width="1.25"/>
<text x="493.60" y="8.40" fill="#1f2d68" stroke="#1f2d68" stroke-width=".1">414</text>
<rect x="510.70" y="1.45" width="16.60" height="9.9" rx="1.6" fill="#dbe9f8" stroke="#1f2d68" stroke-width="1.25"/>
<text x="519.00" y="9.20" fill="#1f2d68" stroke="#1f2d68" stroke-width=".1">429</text>
<rect x="532.30" y="0.65" width="16.60" height="9.9" rx="1.6" fill="#dbe9f8" stroke="#1f2d68" stroke-width="1.25"/>
<text x="540.60" y="8.40" fill="#1f2d68" stroke="#1f2d68" stroke-width=".1">414</text>
<rect x="558.10" y="0.65" width="16.60" height="9.9" rx="1.6" fill="#dbe9f8" stroke="#1f2d68" stroke-width="1.25"/>
<text x="566.40" y="8.40" fill="#1f2d68" stroke="#1f2d68" stroke-width=".1">497</text>
<rect x="580.30" y="0.65" width="16.60" height="9.9" rx="1.6" fill="#dbe9f8" stroke="#1f2d68" stroke-width="1.25"/>
<text x="588.60" y="8.40" fill="#1f2d68" stroke="#1f2d68" stroke-width=".1">428</text>
<rect x="629.70" y="7.45" width="16.60" height="9.9" rx="1.6" fill="#dbe9f8" stroke="#1f2d68" stroke-width="1.25"/>
<text x="638.00" y="15.20" fill="#1f2d68" stroke="#1f2d68" stroke-width=".1">594</text>
<rect x="651.10" y="7.45" width="16.60" height="9.9" rx="1.6" fill="#dbe9f8" stroke="#1f2d68" stroke-width="1.25"/>
<text x="659.40" y="15.20" fill="#1f2d68" stroke="#1f2d68" stroke-width=".1">596</text>
<rect x="230.10" y="15.85" width="16.60" height="9.9" rx="1.6" fill="#dbe9f8" stroke="#1f2d68" stroke-width="1.25"/>
<text x="238.40" y="23.60" fill="#1f2d68" stroke="#1f2d68" stroke-width=".1">172</text>
<rect x="251.70" y="17.55" width="16.60" height="9.9" rx="1.6" fill="#fbb8bb" stroke="#b92732" stroke-width="1.25"/>
<text x="260.00" y="25.30" fill="#b8242f" stroke="#b8242f" stroke-width=".1">111</text>
<rect x="288.30" y="17.45" width="16.60" height="9.9" rx="1.6" fill="#dbe9f8" stroke="#1f2d68" stroke-width="1.25"/>
<text x="296.60" y="25.20" fill="#1f2d68" stroke="#1f2d68" stroke-width=".1">235</text>
<rect x="319.30" y="16.25" width="16.60" height="9.9" rx="1.6" fill="#dbe9f8" stroke="#1f2d68" stroke-width="1.25"/>
<text x="327.60" y="24.00" fill="#1f2d68" stroke="#1f2d68" stroke-width=".1">241</text>
<rect x="339.30" y="15.65" width="16.60" height="9.9" rx="1.6" fill="#dbe9f8" stroke="#1f2d68" stroke-width="1.25"/>
<text x="347.60" y="23.40" fill="#1f2d68" stroke="#1f2d68" stroke-width=".1">299</text>
<rect x="364.30" y="15.65" width="16.60" height="9.9" rx="1.6" fill="#dbe9f8" stroke="#1f2d68" stroke-width="1.25"/>
<text x="372.60" y="23.40" fill="#1f2d68" stroke="#1f2d68" stroke-width=".1">306</text>
<rect x="387.70" y="15.65" width="16.60" height="9.9" rx="1.6" fill="#dbe9f8" stroke="#1f2d68" stroke-width="1.25"/>
<text x="396.00" y="23.40" fill="#1f2d68" stroke="#1f2d68" stroke-width=".1">317</text>
<rect x="437.10" y="15.65" width="16.60" height="9.9" rx="1.6" fill="#dbe9f8" stroke="#1f2d68" stroke-width="1.25"/>
<text x="445.40" y="23.40" fill="#1f2d68" stroke="#1f2d68" stroke-width=".1">429</text>
<rect x="501.10" y="16.05" width="16.60" height="9.9" rx="1.6" fill="#dbe9f8" stroke="#1f2d68" stroke-width="1.25"/>
<text x="509.40" y="23.80" fill="#1f2d68" stroke="#1f2d68" stroke-width=".1">435</text>
<rect x="546.10" y="16.05" width="16.60" height="9.9" rx="1.6" fill="#dbe9f8" stroke="#1f2d68" stroke-width="1.25"/>
<text x="554.40" y="23.80" fill="#1f2d68" stroke="#1f2d68" stroke-width=".1">435</text>
<rect x="577.70" y="16.05" width="16.60" height="9.9" rx="1.6" fill="#dbe9f8" stroke="#1f2d68" stroke-width="1.25"/>
<text x="586.00" y="23.80" fill="#1f2d68" stroke="#1f2d68" stroke-width=".1">414</text>
<rect x="459.10" y="23.45" width="16.60" height="9.9" rx="1.6" fill="#dbe9f8" stroke="#1f2d68" stroke-width="1.25"/>
<text x="467.40" y="31.20" fill="#1f2d68" stroke="#1f2d68" stroke-width=".1">461</text>
<rect x="480.70" y="23.05" width="16.60" height="9.9" rx="1.6" fill="#dbe9f8" stroke="#1f2d68" stroke-width="1.25"/>
<text x="489.00" y="30.80" fill="#1f2d68" stroke="#1f2d68" stroke-width=".1">399</text>
<rect x="523.70" y="23.45" width="16.60" height="9.9" rx="1.6" fill="#dbe9f8" stroke="#1f2d68" stroke-width="1.25"/>
<text x="532.00" y="31.20" fill="#1f2d68" stroke="#1f2d68" stroke-width=".1">435</text>
<rect x="241.70" y="32.25" width="16.60" height="9.9" rx="1.6" fill="#dbe9f8" stroke="#1f2d68" stroke-width="1.25"/>
<text x="250.00" y="40.00" fill="#1f2d68" stroke="#1f2d68" stroke-width=".1">177</text>
<rect x="271.10" y="32.45" width="16.60" height="9.9" rx="1.6" fill="#dbe9f8" stroke="#1f2d68" stroke-width="1.25"/>
<text x="279.40" y="40.20" fill="#1f2d68" stroke="#1f2d68" stroke-width=".1">235</text>
<rect x="305.70" y="32.85" width="16.60" height="9.9" rx="1.6" fill="#dbe9f8" stroke="#1f2d68" stroke-width="1.25"/>
<text x="314.00" y="40.60" fill="#1f2d68" stroke="#1f2d68" stroke-width=".1">306</text>
<rect x="327.10" y="32.45" width="16.60" height="9.9" rx="1.6" fill="#dbe9f8" stroke="#1f2d68" stroke-width="1.25"/>
<text x="335.40" y="40.20" fill="#1f2d68" stroke="#1f2d68" stroke-width=".1">317</text>
<rect x="348.70" y="31.45" width="16.60" height="9.9" rx="1.6" fill="#dbe9f8" stroke="#1f2d68" stroke-width="1.25"/>
<text x="357.00" y="39.20" fill="#1f2d68" stroke="#1f2d68" stroke-width=".1">317</text>
<rect x="373.30" y="30.65" width="16.60" height="9.9" rx="1.6" fill="#dbe9f8" stroke="#1f2d68" stroke-width="1.25"/>
<text x="381.60" y="38.40" fill="#1f2d68" stroke="#1f2d68" stroke-width=".1">308</text>
<rect x="395.10" y="32.45" width="16.60" height="9.9" rx="1.6" fill="#dbe9f8" stroke="#1f2d68" stroke-width="1.25"/>
<text x="403.40" y="40.20" fill="#1f2d68" stroke="#1f2d68" stroke-width=".1">365</text>
<rect x="415.30" y="28.45" width="16.60" height="9.9" rx="1.6" fill="#dbe9f8" stroke="#1f2d68" stroke-width="1.25"/>
<text x="423.60" y="36.20" fill="#1f2d68" stroke="#1f2d68" stroke-width=".1">365</text>
<rect x="437.70" y="29.85" width="16.60" height="9.9" rx="1.6" fill="#dbe9f8" stroke="#1f2d68" stroke-width="1.25"/>
<text x="446.00" y="37.60" fill="#1f2d68" stroke="#1f2d68" stroke-width=".1">308</text>
<rect x="563.10" y="32.05" width="16.60" height="9.9" rx="1.6" fill="#dbe9f8" stroke="#1f2d68" stroke-width="1.25"/>
<text x="571.40" y="39.80" fill="#1f2d68" stroke="#1f2d68" stroke-width=".1">508</text>
<rect x="454.70" y="39.45" width="16.60" height="9.9" rx="1.6" fill="#dbe9f8" stroke="#1f2d68" stroke-width="1.25"/>
<text x="463.00" y="47.20" fill="#1f2d68" stroke="#1f2d68" stroke-width=".1">317</text>
<rect x="480.70" y="37.65" width="16.60" height="9.9" rx="1.6" fill="#dbe9f8" stroke="#1f2d68" stroke-width="1.25"/>
<text x="489.00" y="45.40" fill="#1f2d68" stroke="#1f2d68" stroke-width=".1">453</text>
<rect x="502.70" y="36.45" width="16.60" height="9.9" rx="1.6" fill="#dbe9f8" stroke="#1f2d68" stroke-width="1.25"/>
<text x="511.00" y="44.20" fill="#1f2d68" stroke="#1f2d68" stroke-width=".1">478</text>
<rect x="541.70" y="37.65" width="16.60" height="9.9" rx="1.6" fill="#dbe9f8" stroke="#1f2d68" stroke-width="1.25"/>
<text x="550.00" y="45.40" fill="#1f2d68" stroke="#1f2d68" stroke-width=".1">455</text>
<rect x="225.30" y="47.65" width="16.60" height="9.9" rx="1.6" fill="#dbe9f8" stroke="#1f2d68" stroke-width="1.25"/>
<text x="233.60" y="55.40" fill="#1f2d68" stroke="#1f2d68" stroke-width=".1">161</text>
<rect x="260.30" y="47.65" width="16.60" height="9.9" rx="1.6" fill="#dbe9f8" stroke="#1f2d68" stroke-width="1.25"/>
<text x="268.60" y="55.40" fill="#1f2d68" stroke="#1f2d68" stroke-width=".1">168</text>
<rect x="287.70" y="48.45" width="16.60" height="9.9" rx="1.6" fill="#dbe9f8" stroke="#1f2d68" stroke-width="1.25"/>
<text x="296.00" y="56.20" fill="#1f2d68" stroke="#1f2d68" stroke-width=".1">172</text>
<rect x="312.30" y="48.45" width="16.60" height="9.9" rx="1.6" fill="#fbb8bb" stroke="#b92732" stroke-width="1.25"/>
<text x="320.60" y="56.20" fill="#b8242f" stroke="#b8242f" stroke-width=".1">161</text>
<rect x="335.30" y="47.45" width="16.60" height="9.9" rx="1.6" fill="#dbe9f8" stroke="#1f2d68" stroke-width="1.25"/>
<text x="343.60" y="55.20" fill="#1f2d68" stroke="#1f2d68" stroke-width=".1">308</text>
<rect x="361.10" y="46.65" width="16.60" height="9.9" rx="1.6" fill="#fbb8bb" stroke="#b92732" stroke-width="1.25"/>
<text x="369.40" y="54.40" fill="#b8242f" stroke="#b8242f" stroke-width=".1">257</text>
<rect x="397.70" y="46.45" width="16.60" height="9.9" rx="1.6" fill="#dbe9f8" stroke="#1f2d68" stroke-width="1.25"/>
<text x="406.00" y="54.20" fill="#1f2d68" stroke="#1f2d68" stroke-width=".1">317</text>
<rect x="419.10" y="43.45" width="16.60" height="9.9" rx="1.6" fill="#dbe9f8" stroke="#1f2d68" stroke-width="1.25"/>
<text x="427.40" y="51.20" fill="#1f2d68" stroke="#1f2d68" stroke-width=".1">229</text>
<rect x="441.10" y="54.45" width="16.60" height="9.9" rx="1.6" fill="#dbe9f8" stroke="#1f2d68" stroke-width="1.25"/>
<text x="449.40" y="62.20" fill="#1f2d68" stroke="#1f2d68" stroke-width=".1">299</text>
<rect x="467.30" y="53.65" width="16.60" height="9.9" rx="1.6" fill="#dbe9f8" stroke="#1f2d68" stroke-width="1.25"/>
<text x="475.60" y="61.40" fill="#1f2d68" stroke="#1f2d68" stroke-width=".1">420</text>
<rect x="496.30" y="52.45" width="16.60" height="9.9" rx="1.6" fill="#dbe9f8" stroke="#1f2d68" stroke-width="1.25"/>
<text x="504.60" y="60.20" fill="#1f2d68" stroke="#1f2d68" stroke-width=".1">257</text>
<rect x="520.70" y="52.05" width="16.60" height="9.9" rx="1.6" fill="#dbe9f8" stroke="#1f2d68" stroke-width="1.25"/>
<text x="529.00" y="59.80" fill="#1f2d68" stroke="#1f2d68" stroke-width=".1">299</text>
<rect x="237.70" y="62.65" width="16.60" height="9.9" rx="1.6" fill="#dbe9f8" stroke="#1f2d68" stroke-width="1.25"/>
<text x="246.00" y="70.40" fill="#1f2d68" stroke="#1f2d68" stroke-width=".1">197</text>
<rect x="259.70" y="62.65" width="16.60" height="9.9" rx="1.6" fill="#dbe9f8" stroke="#1f2d68" stroke-width="1.25"/>
<text x="268.00" y="70.40" fill="#1f2d68" stroke="#1f2d68" stroke-width=".1">161</text>
<rect x="281.10" y="64.05" width="16.60" height="9.9" rx="1.6" fill="#dbe9f8" stroke="#1f2d68" stroke-width="1.25"/>
<text x="289.40" y="71.80" fill="#1f2d68" stroke="#1f2d68" stroke-width=".1">134</text>
<rect x="303.10" y="64.05" width="16.60" height="9.9" rx="1.6" fill="#dbe9f8" stroke="#1f2d68" stroke-width="1.25"/>
<text x="311.40" y="71.80" fill="#1f2d68" stroke="#1f2d68" stroke-width=".1">310</text>
<rect x="325.70" y="63.65" width="16.60" height="9.9" rx="1.6" fill="#fbb8bb" stroke="#b92732" stroke-width="1.25"/>
<text x="334.00" y="71.40" fill="#b8242f" stroke="#b8242f" stroke-width=".1">257</text>
<rect x="354.10" y="62.65" width="16.60" height="9.9" rx="1.6" fill="#dbe9f8" stroke="#1f2d68" stroke-width="1.25"/>
<text x="362.40" y="70.40" fill="#1f2d68" stroke="#1f2d68" stroke-width=".1">319</text>
<rect x="375.70" y="61.45" width="16.60" height="9.9" rx="1.6" fill="#fbb8bb" stroke="#b92732" stroke-width="1.25"/>
<text x="384.00" y="69.20" fill="#b8242f" stroke="#b8242f" stroke-width=".1">257</text>
<rect x="397.70" y="61.65" width="16.60" height="9.9" rx="1.6" fill="#dbe9f8" stroke="#1f2d68" stroke-width="1.25"/>
<text x="406.00" y="69.40" fill="#1f2d68" stroke="#1f2d68" stroke-width=".1">257</text>
<rect x="419.10" y="61.05" width="16.60" height="9.9" rx="1.6" fill="#dbe9f8" stroke="#1f2d68" stroke-width="1.25"/>
<text x="427.40" y="68.80" fill="#1f2d68" stroke="#1f2d68" stroke-width=".1">275</text>
<rect x="441.10" y="70.45" width="16.60" height="9.9" rx="1.6" fill="#dbe9f8" stroke="#1f2d68" stroke-width="1.25"/>
<text x="449.40" y="78.20" fill="#1f2d68" stroke="#1f2d68" stroke-width=".1">257</text>
<rect x="462.70" y="66.65" width="16.60" height="9.9" rx="1.6" fill="#dbe9f8" stroke="#1f2d68" stroke-width="1.25"/>
<text x="471.00" y="74.40" fill="#1f2d68" stroke="#1f2d68" stroke-width=".1">399</text>
<rect x="485.30" y="67.05" width="16.60" height="9.9" rx="1.6" fill="#dbe9f8" stroke="#1f2d68" stroke-width="1.25"/>
<text x="493.60" y="74.80" fill="#1f2d68" stroke="#1f2d68" stroke-width=".1">414</text>
<rect x="509.10" y="66.05" width="16.60" height="9.9" rx="1.6" fill="#dbe9f8" stroke="#1f2d68" stroke-width="1.25"/>
<text x="517.40" y="73.80" fill="#1f2d68" stroke="#1f2d68" stroke-width=".1">435</text>
<rect x="289.10" y="80.05" width="16.60" height="9.9" rx="1.6" fill="#dbe9f8" stroke="#1f2d68" stroke-width="1.25"/>
<text x="297.40" y="87.80" fill="#1f2d68" stroke="#1f2d68" stroke-width=".1">222</text>
<rect x="320.70" y="79.45" width="16.60" height="9.9" rx="1.6" fill="#dbe9f8" stroke="#1f2d68" stroke-width="1.25"/>
<text x="329.00" y="87.20" fill="#1f2d68" stroke="#1f2d68" stroke-width=".1">212</text>
<rect x="346.10" y="77.05" width="16.60" height="9.9" rx="1.6" fill="#dbe9f8" stroke="#1f2d68" stroke-width="1.25"/>
<text x="354.40" y="84.80" fill="#1f2d68" stroke="#1f2d68" stroke-width=".1">270</text>
<rect x="375.70" y="77.05" width="16.60" height="9.9" rx="1.6" fill="#dbe9f8" stroke="#1f2d68" stroke-width="1.25"/>
<text x="384.00" y="84.80" fill="#1f2d68" stroke="#1f2d68" stroke-width=".1">394</text>
<rect x="397.10" y="77.65" width="16.60" height="9.9" rx="1.6" fill="#dbe9f8" stroke="#1f2d68" stroke-width="1.25"/>
<text x="405.40" y="85.40" fill="#1f2d68" stroke="#1f2d68" stroke-width=".1">275</text>
<rect x="419.30" y="76.45" width="16.60" height="9.9" rx="1.6" fill="#dbe9f8" stroke="#1f2d68" stroke-width="1.25"/>
<text x="427.60" y="84.20" fill="#1f2d68" stroke="#1f2d68" stroke-width=".1">257</text>
<rect x="447.70" y="85.05" width="16.60" height="9.9" rx="1.6" fill="#dbe9f8" stroke="#1f2d68" stroke-width="1.25"/>
<text x="456.00" y="92.80" fill="#1f2d68" stroke="#1f2d68" stroke-width=".1">275</text>
<rect x="538.70" y="77.05" width="16.60" height="9.9" rx="1.6" fill="#dbe9f8" stroke="#1f2d68" stroke-width="1.25"/>
<text x="547.00" y="84.80" fill="#1f2d68" stroke="#1f2d68" stroke-width=".1">502</text>
<rect x="560.70" y="77.05" width="16.60" height="9.9" rx="1.6" fill="#fbb8bb" stroke="#b92732" stroke-width="1.25"/>
<text x="569.00" y="84.80" fill="#b8242f" stroke="#b8242f" stroke-width=".1">546</text>
<rect x="583.70" y="77.45" width="16.60" height="9.9" rx="1.6" fill="#dbe9f8" stroke="#1f2d68" stroke-width="1.25"/>
<text x="592.00" y="85.20" fill="#1f2d68" stroke="#1f2d68" stroke-width=".1">502</text>
<rect x="605.30" y="77.45" width="16.60" height="9.9" rx="1.6" fill="#dbe9f8" stroke="#1f2d68" stroke-width="1.25"/>
<text x="613.60" y="85.20" fill="#1f2d68" stroke="#1f2d68" stroke-width=".1">581</text>
<rect x="633.10" y="77.45" width="16.60" height="9.9" rx="1.6" fill="#dbe9f8" stroke="#1f2d68" stroke-width="1.25"/>
<text x="641.40" y="85.20" fill="#1f2d68" stroke="#1f2d68" stroke-width=".1">502</text>
<rect x="337.50" y="93.65" width="16.60" height="9.9" rx="1.6" fill="#dbe9f8" stroke="#1f2d68" stroke-width="1.25"/>
<text x="345.80" y="101.40" fill="#1f2d68" stroke="#1f2d68" stroke-width=".1">322</text>
<rect x="362.70" y="93.45" width="16.60" height="9.9" rx="1.6" fill="#dbe9f8" stroke="#1f2d68" stroke-width="1.25"/>
<text x="371.00" y="101.20" fill="#1f2d68" stroke="#1f2d68" stroke-width=".1">212</text>
<rect x="387.70" y="93.45" width="16.60" height="9.9" rx="1.6" fill="#dbe9f8" stroke="#1f2d68" stroke-width="1.25"/>
<text x="396.00" y="101.20" fill="#1f2d68" stroke="#1f2d68" stroke-width=".1">270</text>
<rect x="418.90" y="92.05" width="16.60" height="9.9" rx="1.6" fill="#dbe9f8" stroke="#1f2d68" stroke-width="1.25"/>
<text x="427.20" y="99.80" fill="#1f2d68" stroke="#1f2d68" stroke-width=".1">476</text>
<rect x="449.70" y="100.05" width="16.60" height="9.9" rx="1.6" fill="#dbe9f8" stroke="#1f2d68" stroke-width="1.25"/>
<text x="458.00" y="107.80" fill="#1f2d68" stroke="#1f2d68" stroke-width=".1">410</text>
<rect x="351.30" y="109.05" width="16.60" height="9.9" rx="1.6" fill="#dbe9f8" stroke="#1f2d68" stroke-width="1.25"/>
<text x="359.60" y="116.80" fill="#1f2d68" stroke="#1f2d68" stroke-width=".1">270</text>
<rect x="372.70" y="108.05" width="16.60" height="9.9" rx="1.6" fill="#dbe9f8" stroke="#1f2d68" stroke-width="1.25"/>
<text x="381.00" y="115.80" fill="#1f2d68" stroke="#1f2d68" stroke-width=".1">310</text>
<rect x="405.30" y="108.05" width="16.60" height="9.9" rx="1.6" fill="#dbe9f8" stroke="#1f2d68" stroke-width="1.25"/>
<text x="413.60" y="115.80" fill="#1f2d68" stroke="#1f2d68" stroke-width=".1">410</text>
<rect x="428.70" y="108.65" width="16.60" height="9.9" rx="1.6" fill="#dbe9f8" stroke="#1f2d68" stroke-width="1.25"/>
<text x="437.00" y="116.40" fill="#1f2d68" stroke="#1f2d68" stroke-width=".1">258</text>
<rect x="236.70" y="101.05" width="16.60" height="9.9" rx="1.6" fill="#dbe9f8" stroke="#1f2d68" stroke-width="1.25"/>
<text x="245.00" y="108.80" fill="#1f2d68" stroke="#1f2d68" stroke-width=".1">165</text>
<rect x="269.30" y="97.05" width="16.60" height="9.9" rx="1.6" fill="#dbe9f8" stroke="#1f2d68" stroke-width="1.25"/>
<text x="277.60" y="104.80" fill="#1f2d68" stroke="#1f2d68" stroke-width=".1">129</text>
<rect x="292.70" y="97.65" width="16.60" height="9.9" rx="1.6" fill="#dbe9f8" stroke="#1f2d68" stroke-width="1.25"/>
<text x="301.00" y="105.40" fill="#1f2d68" stroke="#1f2d68" stroke-width=".1">165</text>
<rect x="314.70" y="97.65" width="16.60" height="9.9" rx="1.6" fill="#dbe9f8" stroke="#1f2d68" stroke-width="1.25"/>
<text x="323.00" y="105.40" fill="#1f2d68" stroke="#1f2d68" stroke-width=".1">174</text>
<rect x="214.10" y="112.45" width="16.60" height="9.9" rx="1.6" fill="#fbb8bb" stroke="#b92732" stroke-width="1.25"/>
<text x="222.40" y="120.20" fill="#b8242f" stroke="#b8242f" stroke-width=".1">174</text>
<rect x="236.10" y="119.05" width="16.60" height="9.9" rx="1.6" fill="#dbe9f8" stroke="#1f2d68" stroke-width="1.25"/>
<text x="244.40" y="126.80" fill="#1f2d68" stroke="#1f2d68" stroke-width=".1">174</text>
<rect x="258.30" y="113.05" width="16.60" height="9.9" rx="1.6" fill="#dbe9f8" stroke="#1f2d68" stroke-width="1.25"/>
<text x="266.60" y="120.80" fill="#1f2d68" stroke="#1f2d68" stroke-width=".1">129</text>
<rect x="279.70" y="112.45" width="16.60" height="9.9" rx="1.6" fill="#dbe9f8" stroke="#1f2d68" stroke-width="1.25"/>
<text x="288.00" y="120.20" fill="#1f2d68" stroke="#1f2d68" stroke-width=".1">165</text>
<rect x="305.30" y="113.05" width="16.60" height="9.9" rx="1.6" fill="#dbe9f8" stroke="#1f2d68" stroke-width="1.25"/>
<text x="313.60" y="120.80" fill="#1f2d68" stroke="#1f2d68" stroke-width=".1">174</text>
<rect x="328.70" y="113.05" width="16.60" height="9.9" rx="1.6" fill="#dbe9f8" stroke="#1f2d68" stroke-width="1.25"/>
<text x="337.00" y="120.80" fill="#1f2d68" stroke="#1f2d68" stroke-width=".1">323</text>
<rect x="258.30" y="130.05" width="16.60" height="9.9" rx="1.6" fill="#dbe9f8" stroke="#1f2d68" stroke-width="1.25"/>
<text x="266.60" y="137.80" fill="#1f2d68" stroke="#1f2d68" stroke-width=".1">195</text>
<rect x="280.70" y="128.65" width="16.60" height="9.9" rx="1.6" fill="#dbe9f8" stroke="#1f2d68" stroke-width="1.25"/>
<text x="289.00" y="136.40" fill="#1f2d68" stroke="#1f2d68" stroke-width=".1">174</text>
<rect x="305.70" y="128.05" width="16.60" height="9.9" rx="1.6" fill="#dbe9f8" stroke="#1f2d68" stroke-width="1.25"/>
<text x="314.00" y="135.80" fill="#1f2d68" stroke="#1f2d68" stroke-width=".1">277</text>
<rect x="329.70" y="128.65" width="16.60" height="9.9" rx="1.6" fill="#dbe9f8" stroke="#1f2d68" stroke-width="1.25"/>
<text x="338.00" y="136.40" fill="#1f2d68" stroke="#1f2d68" stroke-width=".1">277</text>
<rect x="357.70" y="128.65" width="16.60" height="9.9" rx="1.6" fill="#dbe9f8" stroke="#1f2d68" stroke-width="1.25"/>
<text x="366.00" y="136.40" fill="#1f2d68" stroke="#1f2d68" stroke-width=".1">277</text>
<rect x="379.10" y="129.45" width="16.60" height="9.9" rx="1.6" fill="#dbe9f8" stroke="#1f2d68" stroke-width="1.25"/>
<text x="387.40" y="137.20" fill="#1f2d68" stroke="#1f2d68" stroke-width=".1">277</text>
<rect x="401.10" y="125.45" width="16.60" height="9.9" rx="1.6" fill="#dbe9f8" stroke="#1f2d68" stroke-width="1.25"/>
<text x="409.40" y="133.20" fill="#1f2d68" stroke="#1f2d68" stroke-width=".1">323</text>
<rect x="279.70" y="144.45" width="16.60" height="9.9" rx="1.6" fill="#dbe9f8" stroke="#1f2d68" stroke-width="1.25"/>
<text x="288.00" y="152.20" fill="#1f2d68" stroke="#1f2d68" stroke-width=".1">174</text>
<rect x="318.10" y="144.05" width="16.60" height="9.9" rx="1.6" fill="#dbe9f8" stroke="#1f2d68" stroke-width="1.25"/>
<text x="326.40" y="151.80" fill="#1f2d68" stroke="#1f2d68" stroke-width=".1">253</text>
<rect x="157.20" y="148.15" width="16.60" height="9.9" rx="1.6" fill="#fbb8bb" stroke="#b92732" stroke-width="1.25"/>
<text x="165.50" y="155.90" fill="#b8242f" stroke="#b8242f" stroke-width=".1">129</text>
<rect x="179.10" y="148.15" width="16.60" height="9.9" rx="1.6" fill="#dbe9f8" stroke="#1f2d68" stroke-width="1.25"/>
<text x="187.40" y="155.90" fill="#1f2d68" stroke="#1f2d68" stroke-width=".1">114</text>
<rect x="176.70" y="164.25" width="16.60" height="9.9" rx="1.6" fill="#dbe9f8" stroke="#1f2d68" stroke-width="1.25"/>
<text x="185.00" y="172.00" fill="#1f2d68" stroke="#1f2d68" stroke-width=".1">152</text>
<rect x="388.90" y="148.25" width="16.60" height="9.9" rx="1.6" fill="#dbe9f8" stroke="#1f2d68" stroke-width="1.25"/>
<text x="397.20" y="156.00" fill="#1f2d68" stroke="#1f2d68" stroke-width=".1">378</text>
<rect x="409.50" y="148.25" width="16.60" height="9.9" rx="1.6" fill="#dbe9f8" stroke="#1f2d68" stroke-width="1.25"/>
<text x="417.80" y="156.00" fill="#1f2d68" stroke="#1f2d68" stroke-width=".1">364</text>
<rect x="461.30" y="148.05" width="16.60" height="9.9" rx="1.6" fill="#dbe9f8" stroke="#1f2d68" stroke-width="1.25"/>
<text x="469.60" y="155.80" fill="#1f2d68" stroke="#1f2d68" stroke-width=".1">432</text>
<rect x="497.30" y="148.05" width="16.60" height="9.9" rx="1.6" fill="#dbe9f8" stroke="#1f2d68" stroke-width="1.25"/>
<text x="505.60" y="155.80" fill="#1f2d68" stroke="#1f2d68" stroke-width=".1">432</text>
<rect x="629.40" y="148.05" width="16.60" height="9.9" rx="1.6" fill="#dbe9f8" stroke="#1f2d68" stroke-width="1.25"/>
<text x="637.70" y="155.80" fill="#1f2d68" stroke="#1f2d68" stroke-width=".1">600</text>
<rect x="651.00" y="148.05" width="16.60" height="9.9" rx="1.6" fill="#dbe9f8" stroke="#1f2d68" stroke-width="1.25"/>
<text x="659.30" y="155.80" fill="#1f2d68" stroke="#1f2d68" stroke-width=".1">600</text>
<rect x="327.50" y="168.35" width="16.60" height="9.9" rx="1.6" fill="#dbe9f8" stroke="#1f2d68" stroke-width="1.25"/>
<text x="335.80" y="176.10" fill="#1f2d68" stroke="#1f2d68" stroke-width=".1">178</text>
<rect x="361.90" y="168.15" width="16.60" height="9.9" rx="1.6" fill="#dbe9f8" stroke="#1f2d68" stroke-width="1.25"/>
<text x="370.20" y="175.90" fill="#1f2d68" stroke="#1f2d68" stroke-width=".1">223</text>
<rect x="169.40" y="183.45" width="16.60" height="9.9" rx="1.6" fill="#dbe9f8" stroke="#1f2d68" stroke-width="1.25"/>
<text x="177.70" y="191.20" fill="#1f2d68" stroke="#1f2d68" stroke-width=".1">126</text>
<rect x="236.60" y="183.45" width="16.60" height="9.9" rx="1.6" fill="#fbb8bb" stroke="#b92732" stroke-width="1.25"/>
<text x="244.90" y="191.20" fill="#b8242f" stroke="#b8242f" stroke-width=".1">162</text>
<rect x="301.70" y="183.85" width="16.60" height="9.9" rx="1.6" fill="#dbe9f8" stroke="#1f2d68" stroke-width="1.25"/>
<text x="310.00" y="191.60" fill="#1f2d68" stroke="#1f2d68" stroke-width=".1">178</text>
<rect x="325.90" y="183.85" width="16.60" height="9.9" rx="1.6" fill="#dbe9f8" stroke="#1f2d68" stroke-width="1.25"/>
<text x="334.20" y="191.60" fill="#1f2d68" stroke="#1f2d68" stroke-width=".1">276</text>
<rect x="347.70" y="183.85" width="16.60" height="9.9" rx="1.6" fill="#dbe9f8" stroke="#1f2d68" stroke-width="1.25"/>
<text x="356.00" y="191.60" fill="#1f2d68" stroke="#1f2d68" stroke-width=".1">288</text>
<rect x="379.20" y="183.15" width="16.60" height="9.9" rx="1.6" fill="#dbe9f8" stroke="#1f2d68" stroke-width="1.25"/>
<text x="387.50" y="190.90" fill="#1f2d68" stroke="#1f2d68" stroke-width=".1">288</text>
<rect x="400.20" y="183.85" width="16.60" height="9.9" rx="1.6" fill="#dbe9f8" stroke="#1f2d68" stroke-width="1.25"/>
<text x="408.50" y="191.60" fill="#1f2d68" stroke="#1f2d68" stroke-width=".1">288</text>
<rect x="425.20" y="183.85" width="16.60" height="9.9" rx="1.6" fill="#dbe9f8" stroke="#1f2d68" stroke-width="1.25"/>
<text x="433.50" y="191.60" fill="#1f2d68" stroke="#1f2d68" stroke-width=".1">364</text>
<rect x="345.00" y="200.75" width="16.60" height="9.9" rx="1.6" fill="#dbe9f8" stroke="#1f2d68" stroke-width="1.25"/>
<text x="353.30" y="208.50" fill="#1f2d68" stroke="#1f2d68" stroke-width=".1">178</text>
<rect x="366.60" y="199.75" width="16.60" height="9.9" rx="1.6" fill="#dbe9f8" stroke="#1f2d68" stroke-width="1.25"/>
<text x="374.90" y="207.50" fill="#1f2d68" stroke="#1f2d68" stroke-width=".1">178</text>
<rect x="170.90" y="219.15" width="16.60" height="9.9" rx="1.6" fill="#dbe9f8" stroke="#1f2d68" stroke-width="1.25"/>
<text x="179.20" y="226.90" fill="#1f2d68" stroke="#1f2d68" stroke-width=".1">119</text>
<rect x="245.90" y="219.15" width="16.60" height="9.9" rx="1.6" fill="#dbe9f8" stroke="#1f2d68" stroke-width="1.25"/>
<text x="254.20" y="226.90" fill="#1f2d68" stroke="#1f2d68" stroke-width=".1">160</text>
<rect x="267.20" y="219.15" width="16.60" height="9.9" rx="1.6" fill="#fbb8bb" stroke="#b92732" stroke-width="1.25"/>
<text x="275.50" y="226.90" fill="#b8242f" stroke="#b8242f" stroke-width=".1">245</text>
<rect x="316.10" y="219.15" width="16.60" height="9.9" rx="1.6" fill="#dbe9f8" stroke="#1f2d68" stroke-width="1.25"/>
<text x="324.40" y="226.90" fill="#1f2d68" stroke="#1f2d68" stroke-width=".1">231</text>
<rect x="337.70" y="219.15" width="16.60" height="9.9" rx="1.6" fill="#dbe9f8" stroke="#1f2d68" stroke-width="1.25"/>
<text x="346.00" y="226.90" fill="#1f2d68" stroke="#1f2d68" stroke-width=".1">231</text>
<rect x="648.60" y="219.05" width="16.60" height="9.9" rx="1.6" fill="#dbe9f8" stroke="#1f2d68" stroke-width="1.25"/>
<text x="656.90" y="226.80" fill="#1f2d68" stroke="#1f2d68" stroke-width=".1">582</text>
<rect x="169.40" y="254.15" width="16.60" height="9.9" rx="1.6" fill="#dbe9f8" stroke="#1f2d68" stroke-width="1.25"/>
<text x="177.70" y="261.90" fill="#1f2d68" stroke="#1f2d68" stroke-width=".1">132</text>
<rect x="249.10" y="254.15" width="16.60" height="9.9" rx="1.6" fill="#dbe9f8" stroke="#1f2d68" stroke-width="1.25"/>
<text x="257.40" y="261.90" fill="#1f2d68" stroke="#1f2d68" stroke-width=".1">220</text>
<rect x="241.80" y="270.35" width="16.60" height="9.9" rx="1.6" fill="#dbe9f8" stroke="#1f2d68" stroke-width="1.25"/>
<text x="250.10" y="278.10" fill="#1f2d68" stroke="#1f2d68" stroke-width=".1">154</text>
<rect x="284.80" y="254.15" width="16.60" height="9.9" rx="1.6" fill="#dbe9f8" stroke="#1f2d68" stroke-width="1.25"/>
<text x="293.10" y="261.90" fill="#1f2d68" stroke="#1f2d68" stroke-width=".1">154</text>
<rect x="308.90" y="253.85" width="16.60" height="9.9" rx="1.6" fill="#dbe9f8" stroke="#1f2d68" stroke-width="1.25"/>
<text x="317.20" y="261.60" fill="#1f2d68" stroke="#1f2d68" stroke-width=".1">278</text>
<rect x="331.20" y="254.75" width="16.60" height="9.9" rx="1.6" fill="#fbb8bb" stroke="#b92732" stroke-width="1.25"/>
<text x="339.50" y="262.50" fill="#b8242f" stroke="#b8242f" stroke-width=".1">278</text>
<rect x="354.00" y="254.05" width="16.60" height="9.9" rx="1.6" fill="#dbe9f8" stroke="#1f2d68" stroke-width="1.25"/>
<text x="362.30" y="261.80" fill="#1f2d68" stroke="#1f2d68" stroke-width=".1">278</text>
<rect x="384.40" y="254.05" width="16.60" height="9.9" rx="1.6" fill="#dbe9f8" stroke="#1f2d68" stroke-width="1.25"/>
<text x="392.70" y="261.80" fill="#1f2d68" stroke="#1f2d68" stroke-width=".1">278</text>
<rect x="406.50" y="254.05" width="16.60" height="9.9" rx="1.6" fill="#dbe9f8" stroke="#1f2d68" stroke-width="1.25"/>
<text x="414.80" y="261.80" fill="#1f2d68" stroke="#1f2d68" stroke-width=".1">278</text>
<rect x="428.30" y="254.05" width="16.60" height="9.9" rx="1.6" fill="#dbe9f8" stroke="#1f2d68" stroke-width="1.25"/>
<text x="436.60" y="261.80" fill="#1f2d68" stroke="#1f2d68" stroke-width=".1">278</text>
<rect x="309.60" y="270.55" width="16.60" height="9.9" rx="1.6" fill="#dbe9f8" stroke="#1f2d68" stroke-width="1.25"/>
<text x="317.90" y="278.30" fill="#1f2d68" stroke="#1f2d68" stroke-width=".1">154</text>
<rect x="341.60" y="270.65" width="16.60" height="9.9" rx="1.6" fill="#dbe9f8" stroke="#1f2d68" stroke-width="1.25"/>
<text x="349.90" y="278.40" fill="#1f2d68" stroke="#1f2d68" stroke-width=".1">154</text>
<rect x="364.00" y="271.15" width="16.60" height="9.9" rx="1.6" fill="#dbe9f8" stroke="#1f2d68" stroke-width="1.25"/>
<text x="372.30" y="278.90" fill="#1f2d68" stroke="#1f2d68" stroke-width=".1">187</text>
<rect x="385.80" y="284.55" width="16.60" height="9.9" rx="1.6" fill="#fbb8bb" stroke="#b92732" stroke-width="1.25"/>
<text x="394.10" y="292.30" fill="#b8242f" stroke="#b8242f" stroke-width=".1">401</text>
<rect x="400.80" y="299.55" width="16.60" height="9.9" rx="1.6" fill="#dbe9f8" stroke="#1f2d68" stroke-width="1.25"/>
<text x="409.10" y="307.30" fill="#1f2d68" stroke="#1f2d68" stroke-width=".1">401</text>
<rect x="584.10" y="290.05" width="16.60" height="9.9" rx="1.6" fill="#dbe9f8" stroke="#1f2d68" stroke-width="1.25"/>
<text x="592.40" y="297.80" fill="#1f2d68" stroke="#1f2d68" stroke-width=".1">475</text>
<rect x="612.50" y="290.05" width="16.60" height="9.9" rx="1.6" fill="#dbe9f8" stroke="#1f2d68" stroke-width="1.25"/>
<text x="620.80" y="297.80" fill="#1f2d68" stroke="#1f2d68" stroke-width=".1">601</text>
<rect x="634.50" y="290.05" width="16.60" height="9.9" rx="1.6" fill="#fbb8bb" stroke="#b92732" stroke-width="1.25"/>
<text x="642.80" y="297.80" fill="#b8242f" stroke="#b8242f" stroke-width=".1">610</text>
<rect x="276.40" y="318.25" width="16.60" height="9.9" rx="1.6" fill="#fbb8bb" stroke="#b92732" stroke-width="1.25"/>
<text x="284.70" y="326.00" fill="#b8242f" stroke="#b8242f" stroke-width=".1">249</text>
<rect x="296.70" y="332.65" width="16.60" height="9.9" rx="1.6" fill="#dbe9f8" stroke="#1f2d68" stroke-width="1.25"/>
<text x="305.00" y="340.40" fill="#1f2d68" stroke="#1f2d68" stroke-width=".1">246</text>
<rect x="424.50" y="325.25" width="16.60" height="9.9" rx="1.6" fill="#dbe9f8" stroke="#1f2d68" stroke-width="1.25"/>
<text x="432.80" y="333.00" fill="#1f2d68" stroke="#1f2d68" stroke-width=".1">353</text>
<rect x="448.20" y="325.25" width="16.60" height="9.9" rx="1.6" fill="#dbe9f8" stroke="#1f2d68" stroke-width="1.25"/>
<text x="456.50" y="333.00" fill="#1f2d68" stroke="#1f2d68" stroke-width=".1">353</text>
<rect x="561.10" y="325.55" width="16.60" height="9.9" rx="1.6" fill="#dbe9f8" stroke="#1f2d68" stroke-width="1.25"/>
<text x="569.40" y="333.30" fill="#1f2d68" stroke="#1f2d68" stroke-width=".1">523</text>
<rect x="582.90" y="324.95" width="16.60" height="9.9" rx="1.6" fill="#dbe9f8" stroke="#1f2d68" stroke-width="1.25"/>
<text x="591.20" y="332.70" fill="#1f2d68" stroke="#1f2d68" stroke-width=".1">523</text>
<rect x="604.80" y="325.55" width="16.60" height="9.9" rx="1.6" fill="#dbe9f8" stroke="#1f2d68" stroke-width="1.25"/>
<text x="613.10" y="333.30" fill="#1f2d68" stroke="#1f2d68" stroke-width=".1">523</text>
<rect x="316.90" y="360.65" width="16.60" height="9.9" rx="1.6" fill="#dbe9f8" stroke="#1f2d68" stroke-width="1.25"/>
<text x="325.20" y="368.40" fill="#1f2d68" stroke="#1f2d68" stroke-width=".1">303</text>
<rect x="388.20" y="360.65" width="16.60" height="9.9" rx="1.6" fill="#dbe9f8" stroke="#1f2d68" stroke-width="1.25"/>
<text x="396.50" y="368.40" fill="#1f2d68" stroke="#1f2d68" stroke-width=".1">258</text>
<rect x="409.10" y="360.65" width="16.60" height="9.9" rx="1.6" fill="#dbe9f8" stroke="#1f2d68" stroke-width="1.25"/>
<text x="417.40" y="368.40" fill="#1f2d68" stroke="#1f2d68" stroke-width=".1">258</text>
<rect x="525.70" y="360.85" width="16.60" height="9.9" rx="1.6" fill="#dbe9f8" stroke="#1f2d68" stroke-width="1.25"/>
<text x="534.00" y="368.60" fill="#1f2d68" stroke="#1f2d68" stroke-width=".1">534</text>
<rect x="547.60" y="360.85" width="16.60" height="9.9" rx="1.6" fill="#fbb8bb" stroke="#b92732" stroke-width="1.25"/>
<text x="555.90" y="368.60" fill="#b8242f" stroke="#b8242f" stroke-width=".1">534</text>
<rect x="569.70" y="364.05" width="16.60" height="9.9" rx="1.6" fill="#fbb8bb" stroke="#b92732" stroke-width="1.25"/>
<text x="578.00" y="371.80" fill="#b8242f" stroke="#b8242f" stroke-width=".1">534</text>
<rect x="269.40" y="395.95" width="16.60" height="9.9" rx="1.6" fill="#fbb8bb" stroke="#b92732" stroke-width="1.25"/>
<text x="277.70" y="403.70" fill="#b8242f" stroke="#b8242f" stroke-width=".1">239</text>
<rect x="291.80" y="395.95" width="16.60" height="9.9" rx="1.6" fill="#dbe9f8" stroke="#1f2d68" stroke-width="1.25"/>
<text x="300.10" y="403.70" fill="#1f2d68" stroke="#1f2d68" stroke-width=".1">237</text>
<rect x="479.80" y="395.55" width="16.60" height="9.9" rx="1.6" fill="#dbe9f8" stroke="#1f2d68" stroke-width="1.25"/>
<text x="488.10" y="403.30" fill="#1f2d68" stroke="#1f2d68" stroke-width=".1">472</text>
<rect x="612.40" y="415.45" width="16.60" height="9.9" rx="1.6" fill="#fbb8bb" stroke="#b92732" stroke-width="1.25"/>
<text x="620.70" y="423.20" fill="#b8242f" stroke="#b8242f" stroke-width=".1">602</text>
<rect x="625.90" y="430.85" width="16.60" height="9.9" rx="1.6" fill="#dbe9f8" stroke="#1f2d68" stroke-width="1.25"/>
<text x="634.20" y="438.60" fill="#1f2d68" stroke="#1f2d68" stroke-width=".1">604</text>
<rect x="649.40" y="431.55" width="16.60" height="9.9" rx="1.6" fill="#dbe9f8" stroke="#1f2d68" stroke-width="1.25"/>
<text x="657.70" y="439.30" fill="#1f2d68" stroke="#1f2d68" stroke-width=".1">602</text>
<rect x="640.00" y="448.15" width="16.60" height="9.9" rx="1.6" fill="#dbe9f8" stroke="#1f2d68" stroke-width="1.25"/>
<text x="648.30" y="455.90" fill="#1f2d68" stroke="#1f2d68" stroke-width=".1">602</text>
<rect x="451.50" y="451.75" width="16.60" height="9.9" rx="1.6" fill="#dbe9f8" stroke="#1f2d68" stroke-width="1.25"/>
<text x="459.80" y="459.50" fill="#1f2d68" stroke="#1f2d68" stroke-width=".1">467</text>
<rect x="437.70" y="467.15" width="16.60" height="9.9" rx="1.6" fill="#dbe9f8" stroke="#1f2d68" stroke-width="1.25"/>
<text x="446.00" y="474.90" fill="#1f2d68" stroke="#1f2d68" stroke-width=".1">467</text>
<rect x="473.00" y="466.55" width="16.60" height="9.9" rx="1.6" fill="#dbe9f8" stroke="#1f2d68" stroke-width="1.25"/>
<text x="481.30" y="474.30" fill="#1f2d68" stroke="#1f2d68" stroke-width=".1">467</text>
<rect x="495.50" y="466.55" width="16.60" height="9.9" rx="1.6" fill="#dbe9f8" stroke="#1f2d68" stroke-width="1.25"/>
<text x="503.80" y="474.30" fill="#1f2d68" stroke="#1f2d68" stroke-width=".1">467</text>
<rect x="517.30" y="466.55" width="16.60" height="9.9" rx="1.6" fill="#dbe9f8" stroke="#1f2d68" stroke-width="1.25"/>
<text x="525.60" y="474.30" fill="#1f2d68" stroke="#1f2d68" stroke-width=".1">519</text>
<rect x="538.90" y="466.55" width="16.60" height="9.9" rx="1.6" fill="#dbe9f8" stroke="#1f2d68" stroke-width="1.25"/>
<text x="547.20" y="474.30" fill="#1f2d68" stroke="#1f2d68" stroke-width=".1">519</text>
<rect x="561.10" y="466.95" width="16.60" height="9.9" rx="1.6" fill="#fbb8bb" stroke="#b92732" stroke-width="1.25"/>
<text x="569.40" y="474.70" fill="#b8242f" stroke="#b8242f" stroke-width=".1">467</text>
<rect x="370.90" y="499.95" width="16.60" height="9.9" rx="1.6" fill="#dbe9f8" stroke="#1f2d68" stroke-width="1.25"/>
<text x="379.20" y="507.70" fill="#1f2d68" stroke="#1f2d68" stroke-width=".1">330</text>
<rect x="384.70" y="514.65" width="16.60" height="9.9" rx="1.6" fill="#dbe9f8" stroke="#1f2d68" stroke-width="1.25"/>
<text x="393.00" y="522.40" fill="#1f2d68" stroke="#1f2d68" stroke-width=".1">331</text>
<rect x="409.40" y="502.45" width="16.60" height="9.9" rx="1.6" fill="#dbe9f8" stroke="#1f2d68" stroke-width="1.25"/>
<text x="417.70" y="510.20" fill="#1f2d68" stroke="#1f2d68" stroke-width=".1">330</text>
<rect x="482.60" y="501.85" width="16.60" height="9.9" rx="1.6" fill="#fbb8bb" stroke="#b92732" stroke-width="1.25"/>
<text x="490.90" y="509.60" fill="#b8242f" stroke="#b8242f" stroke-width=".1">331</text>
<rect x="504.60" y="502.25" width="16.60" height="9.9" rx="1.6" fill="#fbb8bb" stroke="#b92732" stroke-width="1.25"/>
<text x="512.90" y="510.00" fill="#b8242f" stroke="#b8242f" stroke-width=".1">330</text>
<rect x="504.60" y="518.95" width="16.60" height="9.9" rx="1.6" fill="#fbb8bb" stroke="#b92732" stroke-width="1.25"/>
<text x="512.90" y="526.70" fill="#b8242f" stroke="#b8242f" stroke-width=".1">330</text>
<rect x="493.20" y="537.85" width="16.60" height="9.9" rx="1.6" fill="#fbb8bb" stroke="#b92732" stroke-width="1.25"/>
<text x="501.50" y="545.60" fill="#b8242f" stroke="#b8242f" stroke-width=".1">467</text>
<rect x="597.85" y="537.65" width="11.10" height="9.9" rx="1.6" fill="#fbb8bb" stroke="#b92732" stroke-width="1.25"/>
<text x="603.40" y="545.40" fill="#b8242f" stroke="#b8242f" stroke-width=".1">36</text>
<rect x="615.45" y="537.15" width="11.10" height="9.9" rx="1.6" fill="#fbb8bb" stroke="#b92732" stroke-width="1.25"/>
<text x="621.00" y="544.90" fill="#b8242f" stroke="#b8242f" stroke-width=".1">36</text>
<rect x="600.35" y="553.85" width="11.10" height="9.9" rx="1.6" fill="#fbb8bb" stroke="#b92732" stroke-width="1.25"/>
<text x="605.90" y="561.60" fill="#b8242f" stroke="#b8242f" stroke-width=".1">36</text>
<rect x="533.50" y="573.25" width="16.60" height="9.9" rx="1.6" fill="#fbb8bb" stroke="#b92732" stroke-width="1.25"/>
<text x="541.80" y="581.00" fill="#b8242f" stroke="#b8242f" stroke-width=".1">532</text>
<rect x="584.10" y="573.35" width="16.60" height="9.9" rx="1.6" fill="#dbe9f8" stroke="#1f2d68" stroke-width="1.25"/>
<text x="592.40" y="581.10" fill="#1f2d68" stroke="#1f2d68" stroke-width=".1">521</text>
<rect x="393.90" y="593.15" width="16.60" height="9.9" rx="1.6" fill="#dbe9f8" stroke="#1f2d68" stroke-width="1.25"/>
<text x="402.20" y="600.90" fill="#1f2d68" stroke="#1f2d68" stroke-width=".1">328</text>
<rect x="357.60" y="608.05" width="16.60" height="9.9" rx="1.6" fill="#fbb8bb" stroke="#b92732" stroke-width="1.25"/>
<text x="365.90" y="615.80" fill="#b8242f" stroke="#b8242f" stroke-width=".1">328</text>
<rect x="378.70" y="608.65" width="16.60" height="9.9" rx="1.6" fill="#dbe9f8" stroke="#1f2d68" stroke-width="1.25"/>
<text x="387.00" y="616.40" fill="#1f2d68" stroke="#1f2d68" stroke-width=".1">329</text>
<rect x="415.40" y="608.05" width="16.60" height="9.9" rx="1.6" fill="#dbe9f8" stroke="#1f2d68" stroke-width="1.25"/>
<text x="423.70" y="615.80" fill="#1f2d68" stroke="#1f2d68" stroke-width=".1">329</text>
<rect x="361.80" y="624.75" width="16.60" height="9.9" rx="1.6" fill="#dbe9f8" stroke="#1f2d68" stroke-width="1.25"/>
<text x="370.10" y="632.50" fill="#1f2d68" stroke="#1f2d68" stroke-width=".1">329</text>
<rect x="415.40" y="624.75" width="16.60" height="9.9" rx="1.6" fill="#dbe9f8" stroke="#1f2d68" stroke-width="1.25"/>
<text x="423.70" y="632.50" fill="#1f2d68" stroke="#1f2d68" stroke-width=".1">328</text>
<rect x="169.30" y="643.55" width="16.60" height="9.9" rx="1.6" fill="#dbe9f8" stroke="#1f2d68" stroke-width="1.25"/>
<text x="177.60" y="651.30" fill="#1f2d68" stroke="#1f2d68" stroke-width=".1">104</text>
<rect x="275.30" y="643.55" width="16.60" height="9.9" rx="1.6" fill="#dbe9f8" stroke="#1f2d68" stroke-width="1.25"/>
<text x="283.60" y="651.30" fill="#1f2d68" stroke="#1f2d68" stroke-width=".1">264</text>
<rect x="296.30" y="643.55" width="16.60" height="9.9" rx="1.6" fill="#fbb8bb" stroke="#b92732" stroke-width="1.25"/>
<text x="304.60" y="651.30" fill="#b8242f" stroke="#b8242f" stroke-width=".1">264</text>
<rect x="632.80" y="537.45" width="20.60" height="9.9" rx="1.6" fill="#cdc6c4" stroke="#55565c" stroke-width="1.25"/>
<text x="643.10" y="545.20" fill="#777777" stroke="#777777" stroke-width=".1">Meta</text>
</g>
<line x1="73.9" y1="678.4" x2="685" y2="678.4" stroke="#000" stroke-width="2.8"/>
<g stroke="#333" stroke-width="1">
<line x1="165.7" y1="679.5" x2="165.7" y2="687.7"/>
<line x1="269.1" y1="679.5" x2="269.1" y2="687.7"/>
<line x1="374.2" y1="679.5" x2="374.2" y2="687.7"/>
<line x1="477.4" y1="679.5" x2="477.4" y2="687.7"/>
<line x1="582.4" y1="679.5" x2="582.4" y2="687.7"/>
</g>
<g font-family="'Liberation Sans',Arial,sans-serif" font-size="26.3" fill="#4d4d4d" text-anchor="end">
<text transform="translate(178.6,702.8) rotate(-45)">Feb 2022</text>
<text transform="translate(280.1,704.6) rotate(-45)">Aug 2022</text>
<text transform="translate(387.1,702.8) rotate(-45)">Feb 2023</text>
<text transform="translate(488.4,704.6) rotate(-45)">Aug 2023</text>
<text transform="translate(595.3,702.8) rotate(-45)">Feb 2024</text>
<text x="63.6" y="29.9" font-size="27.4">1</text>
<text x="63.6" y="65.2" font-size="27.4">2</text>
<text x="63.6" y="100.6" font-size="27.4">4</text>
<text x="63.6" y="136.0" font-size="27.4">5</text>
<text x="63.6" y="171.3" font-size="27.4">6</text>
<text x="63.6" y="206.7" font-size="27.4">7</text>
<text x="63.6" y="242.1" font-size="27.4">10</text>
<text x="63.6" y="277.4" font-size="27.4">13</text>
<text x="63.6" y="312.8" font-size="27.4">17</text>
<text x="63.6" y="348.2" font-size="27.4">19</text>
<text x="63.6" y="383.5" font-size="27.4">29</text>
<text x="63.6" y="418.9" font-size="27.4">30</text>
<text x="63.6" y="454.3" font-size="27.4">34</text>
<text x="63.6" y="489.7" font-size="27.4">37</text>
<text x="63.6" y="525.0" font-size="27.4">51</text>
<text x="63.6" y="560.4" font-size="27.4">58</text>
<text x="63.6" y="595.8" font-size="27.4">62</text>
<text x="63.6" y="631.1" font-size="27.4">65</text>
<text x="63.6" y="666.5" font-size="27.4">68</text>
</g>
<g font-family="'Liberation Sans',Arial,sans-serif" fill="#000">
<text x="389.7" y="814" font-size="33.2" text-anchor="middle">Month</text>
<text transform="translate(24.9,342.8) rotate(-90)" font-size="33.5" text-anchor="middle">Cluster</text>
<text x="93.3" y="440.8" font-size="23.1">Isolate Source</text>
<g font-size="18.55"><text x="151.2" y="482">Colonizing</text><text x="151.2" y="535.2">Invasive</text><text x="151.2" y="588.4">Environmental</text></g>
</g>
<circle cx="118.6" cy="474.9" r="20.4" fill="#1d2053" fill-opacity=".8"/>
<circle cx="118.6" cy="528.2" r="20.4" fill="#962410" fill-opacity=".8"/>
<path d="M98.1 581.3L118.6 560.8L139.1 581.3L118.6 601.8Z" fill="#7f7f7f"/>
</svg>
</body></html>
